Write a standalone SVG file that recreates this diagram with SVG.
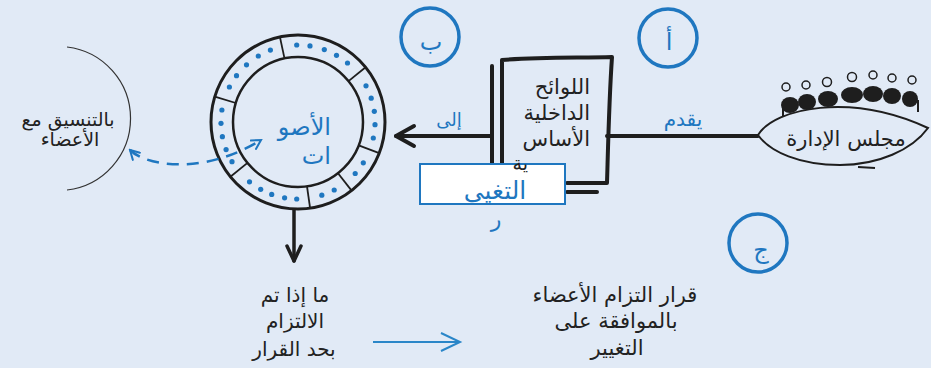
<svg xmlns="http://www.w3.org/2000/svg" width="931" height="368" viewBox="0 0 931 368">
<defs>
<style>
.t{font-family:"DejaVu Sans","Noto Sans",sans-serif;fill:#222;}
.b{fill:#1f77c0;}
.ink{fill:none;stroke:#1e1e1e;stroke-linecap:round;stroke-linejoin:round;}
.lbl{fill:none;stroke:#1f77c0;stroke-width:3.5;}
.dot{fill:#1f77c0;}
</style>
<marker id="chev" viewBox="0 0 12 12" refX="10" refY="6" markerWidth="12" markerHeight="12" markerUnits="userSpaceOnUse" orient="auto-start-reverse">
<path d="M1,1 L10,6 L1,11" fill="none" stroke="#1f77c0" stroke-width="2" stroke-linecap="round"/>
</marker>
</defs>
<rect width="931" height="368" fill="#e1eaf6"/>

<g id="members">
<path d="M67,47 A72,72 0 0 1 67,190" fill="none" stroke="#333" stroke-width="1.2"/>
<text class="t" x="68" y="126" font-size="19" text-anchor="middle">بالتنسيق مع</text>
<text class="t" x="70" y="146" font-size="19" text-anchor="middle">الأعضاء</text>
</g>

<g id="votes">
<circle cx="298" cy="122" r="87" fill="none" stroke="#1e1e1e" stroke-width="3"/>
<circle cx="298" cy="122" r="65" fill="none" stroke="#1e1e1e" stroke-width="2.5"/>
<g stroke="#1e1e1e" stroke-width="1.8">
<line x1="284.5" y1="58.4" x2="279.9" y2="36.9"/>
<line x1="348.5" y1="81.1" x2="365.6" y2="67.3"/>
<line x1="358.7" y1="145.3" x2="379.2" y2="153.2"/>
<line x1="338" y1="173.2" x2="351.6" y2="190.6"/>
<line x1="307" y1="186.4" x2="310.1" y2="208.2"/>
<line x1="247.5" y1="162.9" x2="230.4" y2="176.7"/>
<line x1="235.8" y1="103" x2="214.8" y2="96.6"/>
</g>
<g class="dot">
<circle cx="229.4" cy="87" r="2.6"/><circle cx="236.5" cy="75.7" r="2.6"/><circle cx="246.5" cy="64.8" r="2.6"/><circle cx="258.3" cy="56" r="2.6"/><circle cx="270.4" cy="50.1" r="2.6"/>
<circle cx="296.7" cy="45" r="2.6"/><circle cx="310" cy="45.9" r="2.6"/><circle cx="324.3" cy="49.6" r="2.6"/><circle cx="336.5" cy="55.3" r="2.6"/><circle cx="347.5" cy="63" r="2.6"/>
<circle cx="366" cy="85.8" r="2.6"/><circle cx="371.2" cy="98.2" r="2.6"/><circle cx="374.3" cy="111.3" r="2.6"/><circle cx="375" cy="124.7" r="2.6"/><circle cx="373.3" cy="138" r="2.6"/>
<circle cx="363.3" cy="162.8" r="2.6"/><circle cx="355.2" cy="173.5" r="2.6"/>
<circle cx="334.2" cy="190" r="2.6"/><circle cx="321.8" cy="195.2" r="2.6"/>
<circle cx="296.7" cy="199" r="2.6"/><circle cx="284.6" cy="197.8" r="2.6"/><circle cx="271.7" cy="194.4" r="2.6"/><circle cx="260.7" cy="189.3" r="2.6"/><circle cx="249.5" cy="181.8" r="2.6"/>
<circle cx="232" cy="161.7" r="2.6"/><circle cx="226.1" cy="149.6" r="2.6"/><circle cx="222.4" cy="136.7" r="2.6"/><circle cx="221" cy="123.3" r="2.6"/><circle cx="221.9" cy="110" r="2.6"/>
</g>
<text class="t b" x="331" y="135" font-size="24" text-anchor="end">الأصو</text>
<text class="t b" x="331" y="164" font-size="24" text-anchor="end">ات</text>
</g>

<g id="label-b">
<circle class="lbl" cx="430" cy="37" r="29"/>
<text class="t b" x="431" y="50" font-size="24" text-anchor="middle">ب</text>
</g>
<g id="label-a">
<circle class="lbl" cx="668" cy="38" r="29"/>
<text class="t b" x="669" y="50" font-size="24" text-anchor="middle">أ</text>
</g>
<g id="label-c">
<circle class="lbl" cx="758" cy="243" r="29"/>
<text class="t b" x="761" y="258" font-size="24" text-anchor="middle">ج</text>
</g>

<g id="connectors">
<line class="ink" x1="396" y1="136" x2="492" y2="136" stroke-width="4"/>
<path class="ink" d="M414,126 L396,136 L414,146" stroke-width="4"/>
<line class="ink" x1="492" y1="66" x2="492" y2="165" stroke-width="4"/>
<line class="ink" x1="607" y1="136" x2="758" y2="136" stroke-width="4"/>
<line class="ink" x1="294" y1="210" x2="294" y2="261" stroke-width="3.5"/>
<path class="ink" d="M287,246 L294,261 L301,246" stroke-width="3.5"/>
<path d="M130,150 C142,162 172,168 206,162 C230,157 248,148 261,140" fill="none" stroke="#1f77c0" stroke-width="2.5" stroke-dasharray="12 8" marker-start="url(#chev)" marker-end="url(#chev)"/>
<line x1="373" y1="342" x2="460" y2="342" stroke="#2a86c8" stroke-width="2"/>
<path d="M441,333 L460,342 L441,351" fill="none" stroke="#2a86c8" stroke-width="2"/>
<text class="t b" x="449" y="126" font-size="18" text-anchor="middle">إلى</text>
<text class="t b" x="683" y="126" font-size="20" text-anchor="middle">يقدم</text>
</g>

<g id="bylaws">
<path class="ink" d="M502,165 L502,60 C540,57 580,58 612,57 C609,100 608,150 607,183 L567,183" stroke-width="4"/>
<line class="ink" x1="567" y1="192" x2="597" y2="192" stroke-width="4"/>
</g>

<g id="change">
<rect x="420" y="164" width="145" height="40" fill="#fff" stroke="#1f77c0" stroke-width="2"/>
<text class="t b" x="495" y="199" font-size="25" text-anchor="middle">التغيي</text>
<text class="t b" x="496" y="227" font-size="22" text-anchor="middle">ر</text>
</g>

<g id="bylaws-text">
<text class="t" x="590" y="94" font-size="21" text-anchor="end">اللوائح</text>
<text class="t" x="590" y="120" font-size="21" text-anchor="end">الداخلية</text>
<text class="t" x="590" y="146" font-size="21" text-anchor="end">الأساس</text>
<text class="t" x="528" y="170" font-size="19" text-anchor="end">ية</text>
</g>

<g id="board">
<g fill="#1e1e1e">
<ellipse cx="790" cy="105" rx="9" ry="8"/>
<ellipse cx="807" cy="102" rx="9" ry="8"/>
<ellipse cx="828" cy="99" rx="10" ry="8"/>
<ellipse cx="852" cy="95" rx="11" ry="8"/>
<ellipse cx="873" cy="94" rx="10" ry="8"/>
<ellipse cx="892" cy="96" rx="9" ry="8"/>
<ellipse cx="910" cy="99" rx="8" ry="8"/>
</g>
<path d="M783,116 L783,106 M918,112 L918,100" stroke="#1e1e1e" stroke-width="2" fill="none"/>
<g fill="none" stroke="#1e1e1e" stroke-width="1.5">
<circle cx="786" cy="87" r="4"/>
<circle cx="806" cy="85" r="4"/>
<circle cx="827" cy="82" r="4.5"/>
<circle cx="852" cy="77" r="4.5"/>
<circle cx="873" cy="75" r="4"/>
<circle cx="892" cy="78" r="4"/>
<circle cx="912" cy="80" r="4"/>
</g>
<path d="M758,135 C775,108 850,92 928,128 C912,150 878,165 840,165 C800,165 770,152 758,135 Z" fill="#e1eaf6" stroke="#1e1e1e" stroke-width="2"/>
<line x1="858" y1="167" x2="875" y2="168" stroke="#1e1e1e" stroke-width="2"/>
<text class="t" x="846" y="146" font-size="21" text-anchor="middle">مجلس الإدارة</text>
</g>

<g id="commitment">
<text class="t" x="295" y="302" font-size="20" text-anchor="middle">ما إذا تم</text>
<text class="t" x="295" y="328" font-size="20" text-anchor="middle">الالتزام</text>
<text class="t" x="294" y="356" font-size="20" text-anchor="middle">بحد القرار</text>
</g>

<g id="decision">
<text class="t" x="615" y="302" font-size="21" text-anchor="middle">قرار التزام الأعضاء</text>
<text class="t" x="616" y="328" font-size="21" text-anchor="middle">بالموافقة على</text>
<text class="t" x="617" y="355" font-size="21" text-anchor="middle">التغيير</text>
</g>
</svg>
